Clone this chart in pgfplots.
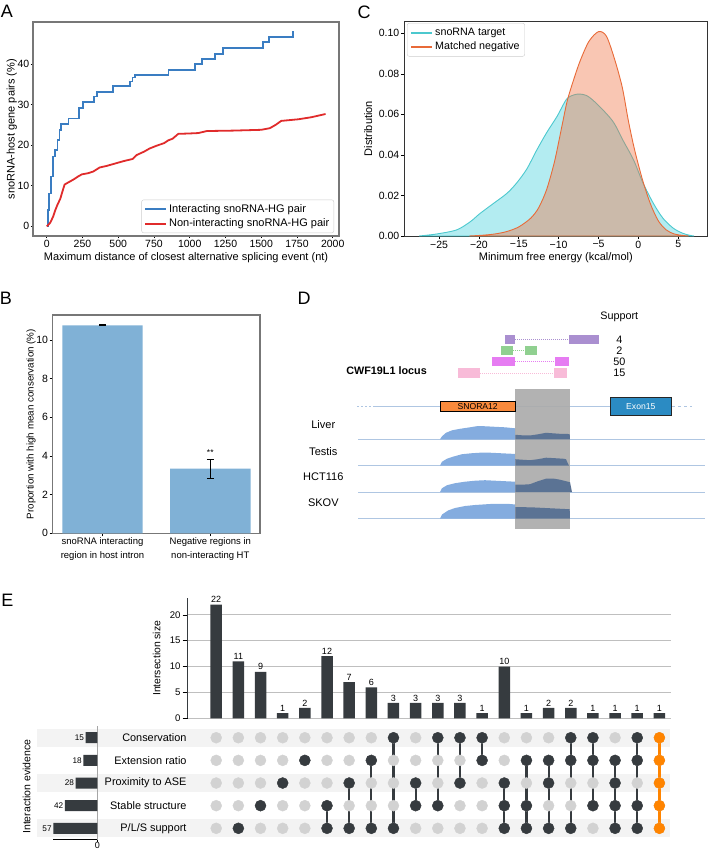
\documentclass[border=0pt]{standalone}
\usepackage{fontspec}
\setmainfont{Liberation Sans}
\usepackage{pgfplots}
\pgfplotsset{compat=1.18}

\definecolor{ablue}{HTML}{3A7DC2}
\definecolor{ared}{HTML}{E02B2B}
\definecolor{cline}{HTML}{4CC8CE}
\definecolor{cfill}{HTML}{40D0DC}
\definecolor{oline}{HTML}{E86A38}
\definecolor{ofill}{HTML}{F07040}
\definecolor{bbar}{HTML}{80B1D6}
\definecolor{frame}{HTML}{777777}
\definecolor{ebar}{HTML}{363B3F}
\definecolor{edot}{HTML}{D2D2D2}
\definecolor{eband}{HTML}{F3F3F3}
\definecolor{eorange}{HTML}{FF8400}
\definecolor{dline}{HTML}{AFC6E2}
\definecolor{dcov}{HTML}{84ACDF}
\definecolor{dcovdark}{HTML}{5B7394}
\definecolor{dgray}{HTML}{ABABAB}
\definecolor{dorange}{HTML}{F98A3C}
\definecolor{dexon}{HTML}{2B8BC3}
\definecolor{dpurple}{HTML}{AA8FD0}
\definecolor{dgreen}{HTML}{90D090}
\definecolor{dmagenta}{HTML}{E67CF2}
\definecolor{dpink}{HTML}{F8BBD8}

\newcommand\fs[1]{\fontsize{#1}{#1}\selectfont}
\tikzset{letter/.style={font=\fs{18}}}
\pgfplotsset{
  every axis/.append style={
    scale only axis, anchor=north west,
    /pgf/number format/assume math mode=true,
    /pgf/number format/1000 sep={},
    tick label style={font=\fs{10.5}, inner sep=1.5pt},
    label style={font=\fs{11}},
    tick align=outside, tick pos=left, major tick length=3pt,
    tick style={black, line width=0.6pt}},
  linelegend/.style={legend image code/.code={\draw[##1, line width=2pt] (0pt,0pt) -- (21pt,0pt);}},
  ylab/.style={ylabel style={at={([xshift=#1]axis description cs:0,0.5)}, anchor=center}},
  xlab/.style={xlabel style={at={([yshift=#1]axis description cs:0.5,0)}, anchor=center}}
}

\begin{document}
\begin{tikzpicture}
\useasboundingbox (0pt,0pt) rectangle (709pt,-851pt);

% ---------------- A
\begin{axis}[at={(33pt,-22pt)}, width=306pt, height=214pt,
  xmin=-96, xmax=2044, ymin=-2.4, ymax=50.4,
  xtick={0,250,...,2000}, ytick={0,10,20,30,40}, major tick length=2pt,
  axis line style={frame, line width=1.3pt},
  xlabel={Maximum distance of closest alternative splicing event (nt)},
  ylabel={snoRNA-host gene pairs (\%)}, ylab=-21.3pt, xlab=-21.7pt,
  legend style={at={(0.9837,0.014)}, anchor=south east, font=\fs{11},
    draw=black!20, rounded corners=2pt, inner sep=2.5pt, row sep=1pt},
  legend cell align=left, linelegend]
\addplot[const plot, ablue, line width=1.8pt] coordinates {
  (0,0)(7,4)(16,8.1)(28,12.3)(42,17.2)(58,18.8)(75,21.3)(89,23.8)(100,25.3)
  (152,26.6)(226,29.2)(256,30.6)(333,32)(350,33.2)(466,34.6)(583,35.7)(600,36.7)
  (618,37.4)(851,38.6)(1037,40)(1084,41.3)(1177,42.6)(1231,44)(1515,45.4)
  (1557,46.7)(1720,48.1)};
\addlegendentry{Interacting snoRNA-HG pair}
\addplot[ared, line width=1.8pt] coordinates {
  (0,0)(10,0.3)(25,0.9)(45,2.4)(60,4)(75,5.3)(95,6.8)(110,8.6)(125,10.3)(150,10.8)
  (190,11.6)(220,12.3)(245,12.8)(290,13.1)(325,13.5)(370,14.5)(420,14.9)(480,15.5)
  (540,16.1)(600,16.6)(630,17.6)(680,18.4)(720,19.2)(770,19.9)(820,20.5)(850,21.2)
  (880,21.6)(920,22.8)(1000,22.9)(1060,23.0)(1120,23.5)(1300,23.6)(1500,23.8)
  (1560,24.2)(1600,25.0)(1640,26.0)(1700,26.2)(1760,26.4)(1850,26.9)(1950,27.7)};
\addlegendentry{Non-interacting snoRNA-HG pair}
\end{axis}

% ---------------- C
\begin{axis}[at={(404pt,-21.3pt)}, width=303.7pt, height=214.7pt,
  xmin=-29.4, xmax=8.7, ymin=0, ymax=0.1059,
  xtick={-25,-20,-15,-10,-5,0,5}, xticklabels={−25,−20,−15,−10,−5,0,5},
  ytick={0,0.02,0.04,0.06,0.08,0.1},
  yticklabel style={/pgf/number format/.cd, fixed, fixed zerofill, precision=2},
  axis line style={black!80, line width=1pt},
  xlabel={Minimum free energy (kcal/mol)}, ylabel={Distribution},
  ylab=-35.7pt, xlab=-21.7pt,
  legend style={at={(0.01,0.992)}, anchor=north west, font=\fs{10.7},
    draw=black!20, rounded corners=2pt, inner sep=3pt, row sep=1pt},
  legend cell align=left, linelegend]
\addplot[draw=cline, line width=0.9pt, fill=cfill, fill opacity=0.4, smooth, forget plot] coordinates {
  (-27.5,0)(-25.3,0.001)(-22.8,0.003)(-21.1,0.007)(-19.9,0.011)(-18.2,0.016)
  (-16.5,0.021)(-15.3,0.026)(-14.0,0.033)(-12.8,0.042)(-11.5,0.051)(-10.2,0.059)
  (-9.0,0.0675)(-8.0,0.0697)(-7.3,0.0700)(-6.5,0.0693)(-5.7,0.067)(-4.4,0.062)
  (-3.1,0.056)(-1.9,0.047)(-0.6,0.0375)(0.6,0.026)(1.9,0.016)(3.1,0.0087)
  (4.4,0.0038)(5.6,0.0013)(6.5,0.0003)(7.0,0)} \closedcycle;
\addplot[draw=oline, line width=0.9pt, fill=ofill, fill opacity=0.4, smooth, forget plot] coordinates {
  (-21.2,0)(-19.5,0.0004)(-18,0.001)(-16.5,0.0022)(-15,0.0045)(-13.5,0.0088)
  (-12.5,0.014)(-11.5,0.023)(-10.5,0.037)(-9.6,0.054)(-8.9,0.067)(-8,0.0785)
  (-7.26,0.0868)(-6.2,0.096)(-5,0.1008)(-4,0.0985)(-2.95,0.0868)(-2,0.073)
  (-1.27,0.0572)(-0.5,0.043)(0.5,0.028)(1.5,0.016)(2.5,0.0075)(3.5,0.003)
  (4.5,0.001)(5.5,0.0003)(6.3,0)} \closedcycle;
\addlegendimage{cline}
\addlegendentry{snoRNA target}
\addlegendimage{oline}
\addlegendentry{Matched negative}
\end{axis}

% ---------------- B
\begin{axis}[at={(52.7pt,-315pt)}, width=207.3pt, height=218.3pt,
  xmin=-0.462, xmax=1.461, ymin=0, ymax=11.29,
  xtick={0,1},
  xticklabels={{snoRNA interacting\\region in host intron},{Negative regions in\\non-interacting HT}},
  xticklabel style={align=center, font=\fontsize{9.5}{13.4}\selectfont},
  ytick={0,2,...,10},
  ylabel={Proportion with high mean conservation (\%)},
  ylabel style={font=\fs{9.8}}, ylab=-21.7pt,
  axis line style={frame, line width=1.3pt}]
\addplot[ybar, bar width=80.4pt, fill=bbar, draw=none,
  error bars/.cd, y dir=both, y explicit,
  error bar style={black, line width=1pt},
  error mark options={rotate=90, mark size=3.5pt, line width=1pt}]
  coordinates {(0,10.76) +- (0,0.02) (1,3.34) +- (0,0.5)};
\addplot[draw=none, mark=none, nodes near coords, point meta=explicit symbolic,
  nodes near coords style={font=\fs{8.5}, anchor=south, inner sep=1pt}]
  coordinates {(1,3.95)[**]};
\end{axis}

% ---------------- D
\begin{axis}[at={(300pt,-288pt)}, width=409pt, height=252pt,
  xmin=300, xmax=709, ymin=-540, ymax=-288, hide axis, clip=false]
% track baselines
\addplot[dline, line width=1pt] coordinates {(358,-439.3)(705,-439.3)};
\addplot[dline, line width=1pt] coordinates {(358,-465.7)(705,-465.7)};
\addplot[dline, line width=1pt] coordinates {(358,-492.2)(705,-492.2)};
\addplot[dline, line width=1pt] coordinates {(358,-518.5)(705,-518.5)};
% gene line
\addplot[dline, line width=1pt] coordinates {(375,-406.5)(610,-406.5)};
\addplot[dline, line width=1pt, dash pattern=on 2pt off 2pt] coordinates {(357,-406.5)(375,-406.5)};
\addplot[dline, line width=1pt, dash pattern=on 3pt off 3pt] coordinates {(672,-406.5)(692,-406.5)};
% coverage outside the shaded window
\addplot[fill=dcov, draw=none] table[y expr=\thisrowno{1}-439.3] {
440 0
442 3
446 6.5
452 9
460 10.5
470 12
478 13.3
486 13
495 12.5
505 12
515.3 11
515.3 0
} -- cycle;
\addplot[fill=dcov, draw=none] table[y expr=\thisrowno{1}-465.7] {
440 0
442 4
447 7
453 9
462 11.5
472 12.5
480 13
490 13
500 12.5
510 12
515.3 11.8
515.3 0
} -- cycle;
\addplot[fill=dcov, draw=none] table[y expr=\thisrowno{1}-492.2] {
440 0
442 4
447 7
455 9
465 10.5
475 11.5
485 12
495 11.5
505 11
515.3 10.5
515.3 0
} -- cycle;
\addplot[fill=dcov, draw=none] table[y expr=\thisrowno{1}-518.5] {
440 0
442 4
448 8
455 10.5
465 12.5
475 13.5
490 14.5
500 14.7
510 14.5
515.3 14
515.3 0
} -- cycle;
% shaded window
\addplot[fill=dgray, draw=none, fill opacity=0.92] coordinates {(515.3,-389)(569.7,-389)(569.7,-528.7)(515.3,-528.7)} -- cycle;
% coverage inside the window
\addplot[fill=dcovdark, draw=none] table[y expr=\thisrowno{1}-439.3] {
515.3 0
515.3 4.5
522 4
530 3.8
538 5
546 6.5
553 6
560 5.5
568 5.3
569.7 5
569.9 0
} -- cycle;
\addplot[fill=dcovdark, draw=none] table[y expr=\thisrowno{1}-465.7] {
515.3 0
515.3 6.5
522 6
530 5.5
538 6.5
546 8
555 7.5
563 7
566 6.5
568 2
569 0
} -- cycle;
\addplot[fill=dcovdark, draw=none] table[y expr=\thisrowno{1}-492.2] {
515.3 0
515.3 7.7
522 7.5
530 8
538 11
546 13.5
553 13.7
560 12.5
566 11
570 10
572 0
} -- cycle;
\addplot[fill=dcovdark, draw=none] table[y expr=\thisrowno{1}-518.5] {
515.3 0
515.3 11.5
525 11.3
535 11
545 10.5
555 10
565 9.5
569.7 9.3
569.9 0
} -- cycle;
% SNORA12 and exon 15
\addplot[fill=dorange, draw=black, line width=0.6pt] coordinates {(440,-401.7)(515.3,-401.7)(515.3,-411.7)(440,-411.7)} -- cycle;
\addplot[fill=dexon, draw=black!85, line width=1pt] coordinates {(610.3,-397.7)(671.3,-397.7)(671.3,-415)(610.3,-415)} -- cycle;
\node[font=\fs{8.6}] at (axis cs:477.7,-406.7) {SNORA12};
\node[font=\fs{8.6}, white] at (axis cs:640.8,-406.3) {Exon15};
% supporting reads
\addplot[dpurple, line width=0.8pt, dash pattern=on 1pt off 1pt] coordinates {(515,-339.7)(569,-339.7)};
\addplot[fill=dpurple, draw=none] coordinates {(505,-335)(515,-335)(515,-344.3)(505,-344.3)} -- cycle;
\addplot[fill=dpurple, draw=none] coordinates {(569,-335)(599,-335)(599,-344.3)(569,-344.3)} -- cycle;
\addplot[dgreen, line width=0.8pt, dash pattern=on 1pt off 1pt] coordinates {(512.7,-350.5)(524.7,-350.5)};
\addplot[fill=dgreen, draw=none] coordinates {(500.7,-346)(512.7,-346)(512.7,-355)(500.7,-355)} -- cycle;
\addplot[fill=dgreen, draw=none] coordinates {(524.7,-346)(536.7,-346)(536.7,-355)(524.7,-355)} -- cycle;
\addplot[dmagenta, line width=0.8pt, dash pattern=on 1pt off 1pt] coordinates {(515,-361.3)(555,-361.3)};
\addplot[fill=dmagenta, draw=none] coordinates {(491.7,-356.7)(515,-356.7)(515,-366)(491.7,-366)} -- cycle;
\addplot[fill=dmagenta, draw=none] coordinates {(555,-356.7)(569,-356.7)(569,-366)(555,-366)} -- cycle;
\addplot[dpink, line width=0.8pt, dash pattern=on 1pt off 1pt] coordinates {(480,-373)(554,-373)};
\addplot[fill=dpink, draw=none] coordinates {(457.7,-368.3)(480,-368.3)(480,-377.7)(457.7,-377.7)} -- cycle;
\addplot[fill=dpink, draw=none] coordinates {(554,-368.3)(567.3,-368.3)(567.3,-377.7)(554,-377.7)} -- cycle;
% texts
\node[font=\fs{10.8}] at (axis cs:619.3,-317.3) {Support};
\node[font=\fs{10.8}] at (axis cs:619.3,-340) {4};
\node[font=\fs{10.8}] at (axis cs:619.3,-350.8) {2};
\node[font=\fs{10.8}] at (axis cs:619.3,-361.7) {50};
\node[font=\fs{10.8}] at (axis cs:619.3,-372.7) {15};
\node[font=\bfseries\fs{10.8}, anchor=east, inner sep=0pt] at (axis cs:427,-370.7) {CWF19L1 locus};
\node[font=\fs{11}] at (axis cs:323.3,-425) {Liver};
\node[font=\fs{11}] at (axis cs:323.3,-451.7) {Testis};
\node[font=\fs{11}] at (axis cs:323.3,-476.7) {HCT116};
\node[font=\fs{11}] at (axis cs:323.3,-502.7) {SKOV};
\end{axis}

% ---------------- E: membership matrix
\begin{axis}[at={(187.7pt,-726.4pt)}, width=483pt, height=113.25pt,
  xmin=-1.286, xmax=20.51, ymin=-0.5, ymax=4.5, clip=false, axis on top,
  axis line style={draw=none}, xtick=\empty, ytick={0,1,2,3,4},
  yticklabels={P/L/S support,Stable structure,Proximity to ASE,Extension ratio,Conservation},
  major tick length=0pt, yticklabel style={font=\fs{10.9}, inner sep=1pt}]
\addplot[fill=eband, draw=none] coordinates {(-8.09,3.6)(20.49,3.6)(20.49,4.4)(-8.09,4.4)} -- cycle;
\addplot[fill=eband, draw=none] coordinates {(-8.09,1.6)(20.49,1.6)(20.49,2.4)(-8.09,2.4)} -- cycle;
\addplot[fill=eband, draw=none] coordinates {(-8.09,-0.4)(20.49,-0.4)(20.49,0.4)(-8.09,0.4)} -- cycle;
\addplot[only marks, mark=*, mark size=5.5pt, edot] coordinates {
  (0,4)(1,4)(2,4)(3,4)(4,4)(5,4)(6,4)(7,4)(8,4)(9,4)(10,4)(11,4)(12,4)(13,4)(14,4)(15,4)(16,4)(17,4)(18,4)(19,4)(20,4)
  (0,3)(1,3)(2,3)(3,3)(4,3)(5,3)(6,3)(7,3)(8,3)(9,3)(10,3)(11,3)(12,3)(13,3)(14,3)(15,3)(16,3)(17,3)(18,3)(19,3)(20,3)
  (0,2)(1,2)(2,2)(3,2)(4,2)(5,2)(6,2)(7,2)(8,2)(9,2)(10,2)(11,2)(12,2)(13,2)(14,2)(15,2)(16,2)(17,2)(18,2)(19,2)(20,2)
  (0,1)(1,1)(2,1)(3,1)(4,1)(5,1)(6,1)(7,1)(8,1)(9,1)(10,1)(11,1)(12,1)(13,1)(14,1)(15,1)(16,1)(17,1)(18,1)(19,1)(20,1)
  (0,0)(1,0)(2,0)(3,0)(4,0)(5,0)(6,0)(7,0)(8,0)(9,0)(10,0)(11,0)(12,0)(13,0)(14,0)(15,0)(16,0)(17,0)(18,0)(19,0)(20,0)};
\addplot[ebar, line width=2.2pt, unbounded coords=jump] coordinates {
  (5,1)(5,0)(5,nan) (6,2)(6,0)(6,nan) (7,3)(7,0)(7,nan) (8,4)(8,0)(8,nan)
  (9,2)(9,1)(9,nan) (10,4)(10,1)(10,nan) (11,4)(11,2)(11,nan) (12,4)(12,3)(12,nan)
  (13,2)(13,0)(13,nan) (14,3)(14,0)(14,nan) (15,3)(15,0)(15,nan) (16,4)(16,0)(16,nan)
  (17,4)(17,1)(17,nan) (18,3)(18,0)(18,nan) (19,4)(19,0)};
\addplot[only marks, mark=*, mark size=5.5pt, ebar] coordinates {
  (1,0)(2,1)(3,2)(4,3)(5,1)(5,0)(6,2)(6,0)(7,3)(7,0)(8,4)(8,0)(9,2)(9,1)
  (10,4)(10,1)(11,4)(11,2)(12,4)(12,3)(13,2)(13,1)(13,0)(14,3)(14,1)(14,0)
  (15,3)(15,2)(15,0)(16,4)(16,3)(16,0)(17,4)(17,3)(17,1)
  (18,3)(18,2)(18,1)(18,0)(19,4)(19,3)(19,1)(19,0)};
\addplot[eorange, line width=2.2pt] coordinates {(20,4)(20,0)};
\addplot[only marks, mark=*, mark size=5.5pt, eorange] coordinates {(20,4)(20,3)(20,2)(20,1)(20,0)};
\end{axis}

% ---------------- E: set sizes
\begin{axis}[at={(53.3pt,-726.4pt)}, width=44pt, height=113.25pt,
  xmin=-57, xmax=0, ymin=-0.5, ymax=4.5, clip=false,
  axis x line*=bottom, axis y line*=right, ytick=\empty,
  xtick={0}, xticklabels={0}, major tick length=2pt,
  xticklabel style={font=\fs{9}, inner sep=0.5pt},
  x axis line style={black, line width=0.8pt, -},
  y axis line style={black!35, line width=0.8pt, -}]
\addplot[xbar, bar width=11pt, fill=ebar, draw=none] coordinates {(-15,4)(-18,3)(-28,2)(-42,1)(-57,0)};
\node[anchor=east, font=\fs{8.2}, inner sep=1.5pt] at (axis cs:-15,4) {15};
\node[anchor=east, font=\fs{8.2}, inner sep=1.5pt] at (axis cs:-18,3) {18};
\node[anchor=east, font=\fs{8.2}, inner sep=1.5pt] at (axis cs:-28,2) {28};
\node[anchor=east, font=\fs{8.2}, inner sep=1.5pt] at (axis cs:-42,1) {42};
\node[anchor=east, font=\fs{8.2}, inner sep=1.5pt] at (axis cs:-57,0) {57};
\end{axis}

% ---------------- E: intersection sizes
\begin{axis}[at={(187.7pt,-598.3pt)}, width=483pt, height=120pt,
  xmin=-1.286, xmax=20.51, ymin=0, ymax=23.2,
  axis x line=none, axis y line*=left, major tick length=5pt,
  y axis line style={ebar, line width=0.9pt, -},
  ytick={0,5,10,15,20}, yticklabel style={font=\fs{9.6}, inner sep=2pt},
  ymajorgrids, grid style={black!25, line width=0.9pt},
  ylabel={Intersection size}, ylabel style={font=\fs{10.4}}, ylab=-31pt,
  nodes near coords, nodes near coords style={font=\fs{9}, inner sep=1.5pt}]
\addplot[ybar, bar width=11.5pt, fill=ebar, draw=none] coordinates {
  (0,22)(1,11)(2,9)(3,1)(4,2)(5,12)(6,7)(7,6)(8,3)(9,3)(10,3)(11,3)(12,1)
  (13,10)(14,1)(15,2)(16,2)(17,1)(18,1)(19,1)(20,1)};
\end{axis}

\node[rotate=90, font=\fs{10.5}] at (26.7pt,-786.7pt) {Interaction evidence};

\node[letter] at (7pt,-11.5pt) {A};
\node[letter] at (6pt,-298pt) {B};
\node[letter] at (364pt,-12pt) {C};
\node[letter] at (304pt,-298pt) {D};
\node[letter] at (7.5pt,-600pt) {E};
\end{tikzpicture}
\end{document}
